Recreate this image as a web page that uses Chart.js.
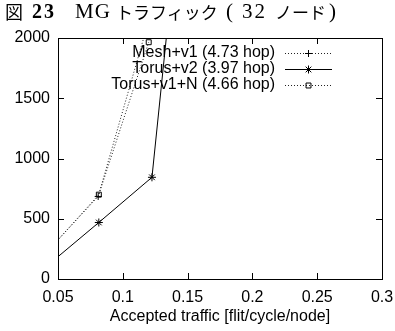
<!DOCTYPE html>
<html>
<head>
<meta charset="utf-8">
<script src="https://cdn.jsdelivr.net/npm/chart.js@4"></script>
<style>
  html, body { margin: 0; padding: 0; background: #fff; }
  #wrap { position: relative; width: 395px; height: 331px; }
  #title span { position: absolute; top: 0; height: 23px; line-height: 23px; white-space: nowrap; color: #000; }
  .jp { font-family: "Noto Sans CJK JP", sans-serif; font-size: 17px; }
  .sr { font-family: "Liberation Serif", serif; font-size: 21px; }
  .bd { font-family: "Liberation Serif", serif; font-size: 20px; font-weight: bold; }
  canvas { position: absolute; left: 0; top: 0; }
</style>
</head>
<body>
<div id="wrap">
  <canvas id="c" width="395" height="331"></canvas>
  <div id="title">
    <span class="jp" style="left:5px;font-size:18px">図</span>
    <span class="bd" style="left:32px;letter-spacing:2px">23</span>
    <span class="sr" style="left:75px;letter-spacing:1px">MG</span>
    <span class="jp" style="left:116px">トラフィック</span>
    <span class="sr" style="left:226px">(</span>
    <span class="sr" style="left:242px;letter-spacing:2px">32</span>
    <span class="jp" style="left:275px">ノード</span>
    <span class="sr" style="left:329px">)</span>
  </div>
</div>
<script>
// ---- data ----
const seriesLabels = ["Mesh+v1 (4.73 hop)", "Torus+v2 (3.97 hop)", "Torus+v1+N (4.66 hop)"];
const meshX   = [0.04, 0.081, 0.12];
const meshY   = [209, 685, 2145];
const torus2X = [0.04, 0.0815, 0.1225, 0.135];
const torus2Y = [95, 469, 844, 2150];
const torusNX = [0.04, 0.0815, 0.12];
const torusNY = [206, 700, 1965];
const xTicks  = [0.05, 0.1, 0.15, 0.2, 0.25, 0.3];
const yTicks  = [0, 500, 1000, 1500, 2000];
const xTitle  = "Accepted traffic [flit/cycle/node]";

const pts = (xs, ys) => xs.map((x, i) => ({x: x, y: ys[i]}));

const FONT = "'Liberation Sans', Arial, sans-serif";

const frameAndLegend = {
  id: 'frameAndLegend',
  afterDatasetsDraw(chart) {
    const ctx = chart.ctx;
    const a = chart.chartArea;
    const xs = chart.scales.x, ys = chart.scales.y;
    ctx.save();
    ctx.strokeStyle = '#000';
    ctx.lineWidth = 1;
    ctx.setLineDash([]);
    ctx.strokeRect(Math.round(a.left) + 0.5, Math.round(a.top) + 0.5,
                   Math.round(a.right - a.left), Math.round(a.bottom - a.top));
    const L = 6;
    ctx.beginPath();
    xTicks.forEach(v => {
      const px = Math.round(xs.getPixelForValue(v)) + 0.5;
      ctx.moveTo(px, a.bottom); ctx.lineTo(px, a.bottom - L);
      ctx.moveTo(px, a.top); ctx.lineTo(px, a.top + L);
    });
    yTicks.forEach(v => {
      const py = Math.round(ys.getPixelForValue(v)) + 0.5;
      ctx.moveTo(a.left, py); ctx.lineTo(a.left + L, py);
      ctx.moveTo(a.right, py); ctx.lineTo(a.right - L, py);
    });
    ctx.stroke();

    // legend (gnuplot style, top right inside)
    ctx.font = "16px " + FONT;
    ctx.textAlign = 'right';
    ctx.textBaseline = 'middle';
    const textRight = 275, s0 = 285, s1 = 332, rowY0 = 53, rowH = 16;
    chart.data.datasets.forEach((ds, i) => {
      const y = rowY0 + i * rowH;
      ctx.fillStyle = '#000';
      ctx.fillText(ds.label, textRight, y);
      ctx.strokeStyle = ds.borderColor;
      ctx.lineWidth = ds.borderWidth;
      ctx.setLineDash(ds.borderDash || []);
      ctx.beginPath();
      ctx.moveTo(s0, y + 0.5); ctx.lineTo(s1, y + 0.5);
      ctx.stroke();
      ctx.setLineDash([]);
      ctx.fillStyle = 'rgba(0,0,0,0)';
      ctx.strokeStyle = '#000';
      ctx.lineWidth = 1;
      Chart.helpers.drawPoint(ctx, {
        pointStyle: ds.pointStyle, radius: ds.pointRadius, rotation: 0,
        borderWidth: 1
      }, (s0 + s1) / 2, y + 0.5);
    });
    ctx.restore();
  }
};

new Chart(document.getElementById('c'), {
  type: 'line',
  data: {
    datasets: [
      { label: seriesLabels[0], data: pts(meshX, meshY), borderColor: '#222', borderWidth: 1,
        borderDash: [1, 2], pointStyle: 'cross', pointRadius: 3.5, pointBorderColor: '#000',
        pointBackgroundColor: 'rgba(0,0,0,0)', pointBorderWidth: 1, tension: 0 },
      { label: seriesLabels[1], data: pts(torus2X, torus2Y), borderColor: '#000', borderWidth: 1,
        pointStyle: 'star', pointRadius: 4, pointBorderColor: '#000',
        pointBackgroundColor: 'rgba(0,0,0,0)', pointBorderWidth: 1, tension: 0 },
      { label: seriesLabels[2], data: pts(torusNX, torusNY), borderColor: '#222', borderWidth: 1,
        borderDash: [1, 2], pointStyle: 'rect', pointRadius: 3.5, pointBorderColor: '#000',
        pointBackgroundColor: 'rgba(0,0,0,0)', pointBorderWidth: 1, tension: 0 }
    ]
  },
  options: {
    responsive: false,
    animation: false,
    layout: { padding: { top: 38, right: 13, left: 0, bottom: 0 } },
    plugins: { legend: { display: false }, tooltip: { enabled: false }, title: { display: false } },
    scales: {
      x: {
        type: 'linear', min: 0.05, max: 0.3,
        afterBuildTicks: s => { s.ticks = xTicks.map(v => ({value: v})); },
        afterFit: s => { s.height = 52; s.paddingLeft = 0; s.paddingRight = 0; },
        grid: { display: false, drawTicks: false }, border: { display: false },
        ticks: { font: { family: FONT, size: 16 }, color: '#000', padding: 9,
                 callback: v => String(v) },
        title: { display: true, text: xTitle, color: '#000',
                 font: { family: FONT, size: 16 }, padding: { top: 0, bottom: 5 } }
      },
      y: {
        type: 'linear', min: 0, max: 2000,
        afterBuildTicks: s => { s.ticks = yTicks.map(v => ({value: v})); },
        afterFit: s => { s.width = 58; s.paddingTop = 0; s.paddingBottom = 0; },
        grid: { display: false, drawTicks: false }, border: { display: false },
        ticks: { font: { family: FONT, size: 16 }, color: '#000', padding: 8,
                 callback: v => String(v) }
      }
    }
  },
  plugins: [frameAndLegend]
});
</script>
</body>
</html>
